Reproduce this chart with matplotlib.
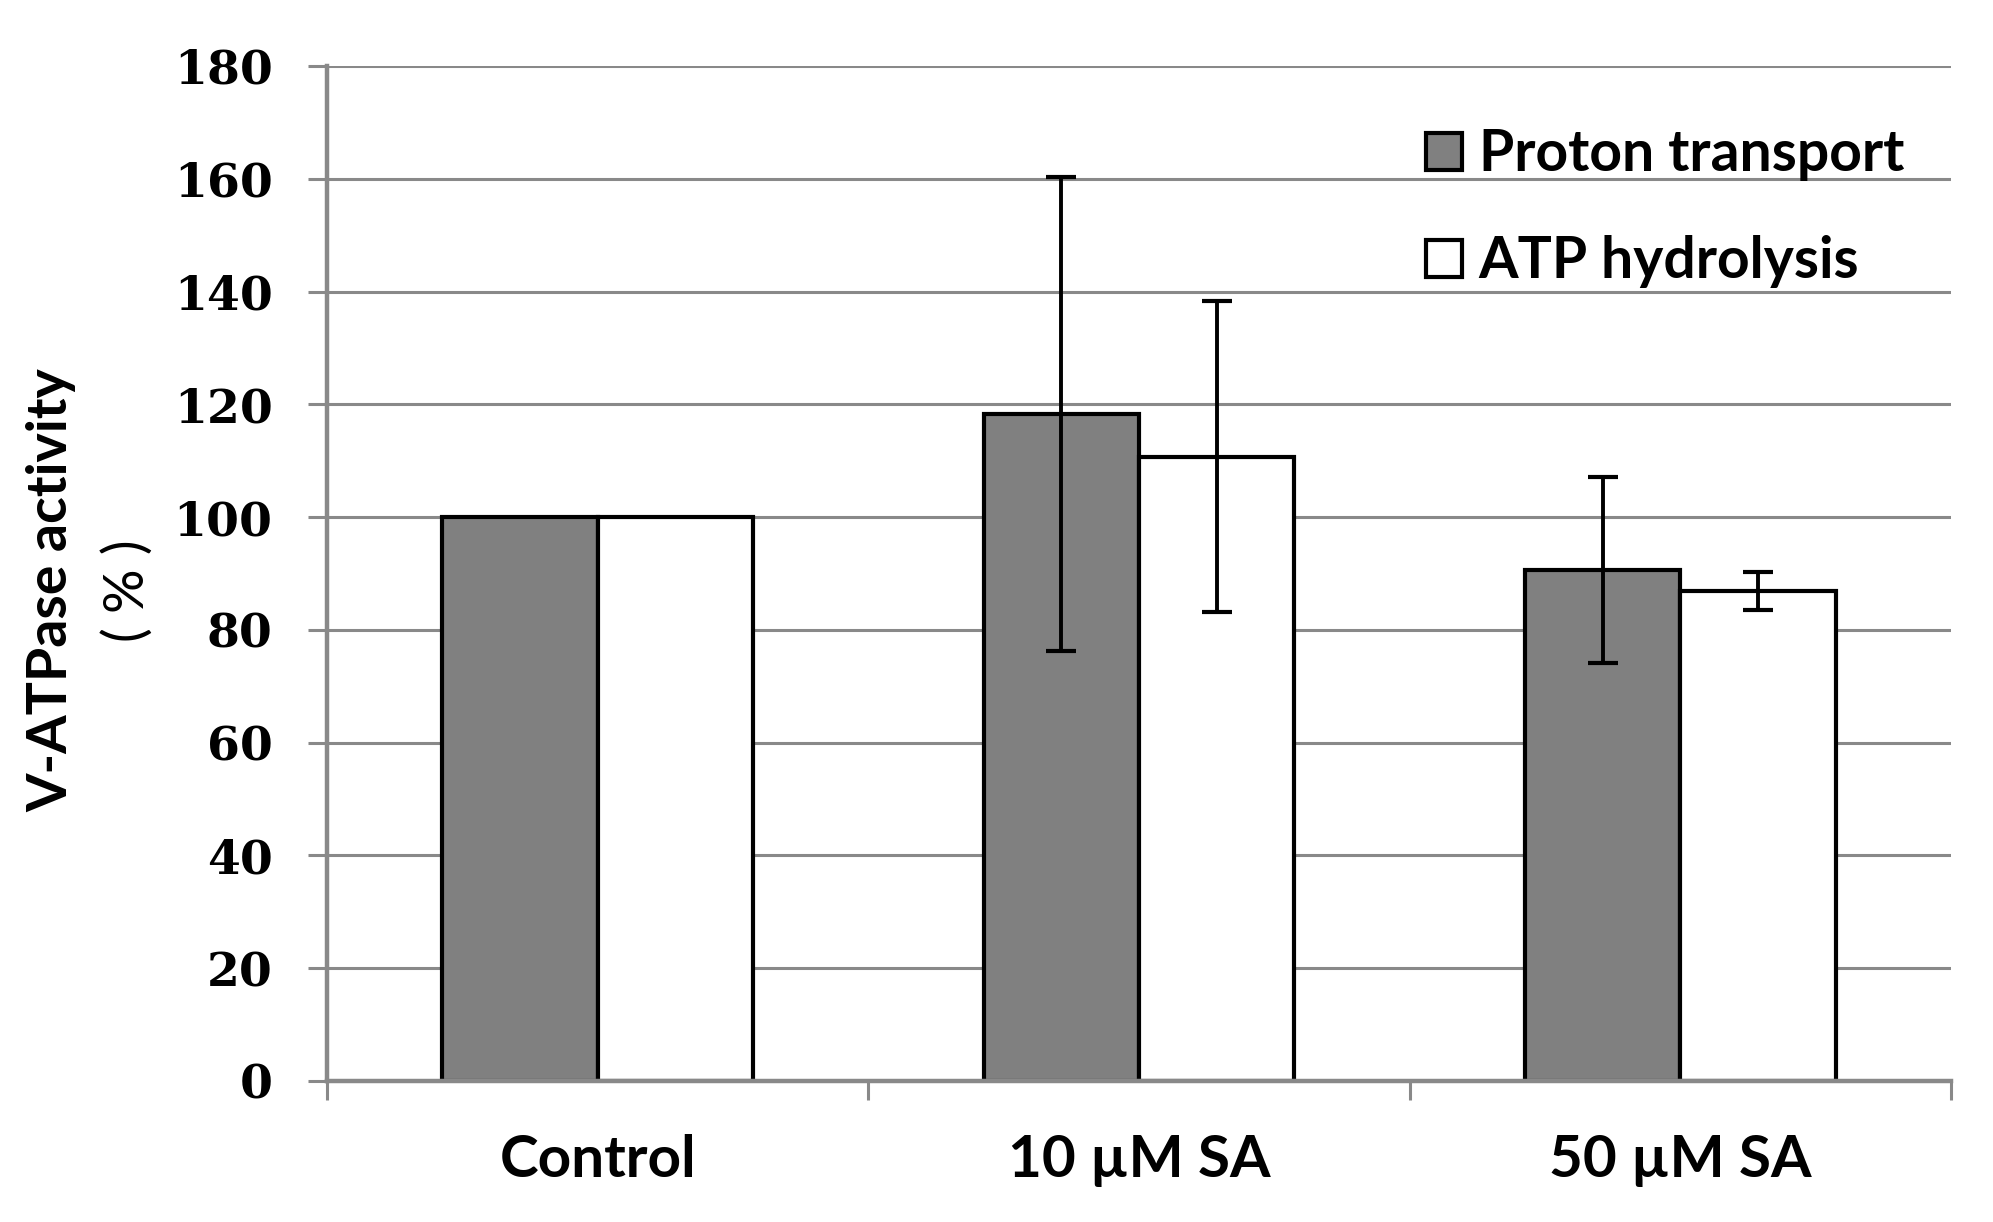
import matplotlib
matplotlib.use("Agg")
import matplotlib.pyplot as plt
from matplotlib.patches import Patch
import numpy as np

categories = ["Control", "10 µM SA", "50 µM SA"]
proton = [100, 118.3, 90.6]
proton_err = [0, 42.0, 16.5]
atp = [100, 110.7, 86.9]
atp_err = [0, 27.6, 3.4]
yticks = [0, 20, 40, 60, 80, 100, 120, 140, 160, 180]

fig = plt.figure(figsize=(19.93, 12.22), dpi=100)
ax = fig.add_axes([0.1640, 0.1154, 0.979 - 0.1640, 0.946 - 0.1154])

x = np.arange(len(categories))
w = 0.287
grid_c = "#898989"

ax.set_axisbelow(True)
ax.yaxis.grid(True, color=grid_c, linewidth=2.2)

ax.bar(x - w / 2, proton, w, color="#808080", edgecolor="black", linewidth=3,
       label="Proton transport", zorder=2)
ax.bar(x + w / 2, atp, w, color="white", edgecolor="black", linewidth=3,
       label="ATP hydrolysis", zorder=2)

for xs, vals, errs in [(x - w / 2, proton, proton_err), (x + w / 2, atp, atp_err)]:
    for xi, v, e in zip(xs, vals, errs):
        if e > 0:
            ax.errorbar(xi, v, yerr=e, fmt="none", ecolor="black", elinewidth=2.8,
                        capsize=11, capthick=3, zorder=3)

ax.set_xlim(-0.5, 2.5)
ax.set_ylim(0, 180)
ax.set_yticks(yticks)
ax.set_yticklabels([str(t) for t in yticks], fontfamily="DejaVu Serif",
                   fontweight="bold", fontsize=34)
ax.tick_params(axis="y", length=14, width=2.2, color=grid_c, pad=25)

ax.set_xticks([-0.5, 0.5, 1.5, 2.5])
ax.set_xticklabels([])
ax.set_xticks(x, minor=True)
ax.set_xticklabels(categories, minor=True, fontfamily="Lato", fontweight="bold",
                   fontsize=42)
ax.tick_params(axis="x", which="major", length=14, width=2.2, color=grid_c)
ax.tick_params(axis="x", which="minor", length=0, pad=38)

for s in ["top", "right"]:
    ax.spines[s].set_visible(False)
for s in ["left", "bottom"]:
    ax.spines[s].set_color(grid_c)
    ax.spines[s].set_linewidth(3.2)

handles = [Patch(facecolor="#808080", edgecolor="black", linewidth=3),
           Patch(facecolor="white", edgecolor="black", linewidth=3)]
leg = fig.legend(handles, ["Proton transport", "ATP hydrolysis"],
                 loc="upper left", bbox_to_anchor=(0.690, 0.937),
                 frameon=False, handlelength=0.62, handleheight=0.62,
                 handletextpad=0.3, labelspacing=0.95,
                 prop={"family": "Lato", "weight": "bold", "size": 41})

fig.text(0.0255, 0.517, "V-ATPase activity", rotation=90, ha="center", va="center",
         fontfamily="Lato", fontweight="bold", fontsize=40)
fig.text(0.064, 0.517, "( % )", rotation=90, ha="center", va="center",
         fontfamily="Lato", fontsize=40)

fig.savefig("out.png", dpi=100)
